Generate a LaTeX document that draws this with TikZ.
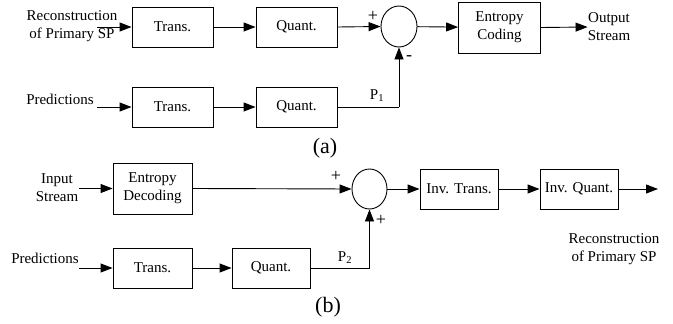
\documentclass[tikz,border=0pt]{standalone}
\usepackage{fontspec}
\setmainfont{Liberation Serif}
\usetikzlibrary{arrows.meta,shapes.geometric}
\begin{document}
\begin{tikzpicture}[x=1pt,y=-1pt,
  every node/.style={font=\fontsize{15}{18}\selectfont, inner sep=0pt},
  blk/.style={draw, line width=0.9pt, minimum width=81pt, minimum height=40pt, align=center},
  sumnode/.style={draw, ellipse, line width=0.9pt, minimum width=36pt, minimum height=41pt},
  lbl/.style={align=center},
  sgn/.style={font=\fontsize{18}{18}\selectfont},
  conn/.style={line width=0.9pt},
  arr/.style={line width=0.9pt, -{Triangle[length=12pt,width=9pt]}},
  captxt/.style={font=\fontsize{22}{24}\selectfont}
]
\useasboundingbox (0,0) rectangle (673,324);
% ---------- (a) ----------
\node[lbl] (recA) at (72,26) {Reconstruction\\of Primary SP};
\coordinate (recAout) at (97,27);
\node[blk] (t1) at (172.5,27) {Trans.};
\node[blk] (q1) at (296.5,27) {Quant.};
\node[sumnode] (s1) at (399,26.5) {};
\node[blk, minimum width=82pt, minimum height=51pt] (ec) at (499.5,27.5) {Entropy\\Coding};
\node[lbl] (outA) at (609,27) {Output\\Stream};
\node (predA) at (60,99) {Predictions};
\coordinate (predAout) at (97,107);
\node[blk] (t2) at (172.5,107) {Trans.};
\node[blk] (q2) at (296.5,107) {Quant.};
\coordinate (cA) at (399,107);
\node (p1) at (377,96) {P\textsubscript{1}};
\node[sgn] (plusA) at (373,16) {+};
\node[sgn] (minusA) at (409,58) {-};
\node[captxt] (capA) at (325,148) {(a)};

\draw[arr] (recAout) -- (t1.west);
\draw[arr] (t1) -- (q1);
\draw[arr] (q1.east) -- (s1.west);
\draw[arr] (s1) -- (ec);
\draw[arr] (ec.east) -- (outA.west);
\draw[arr] (predAout) -- (t2.west);
\draw[arr] (t2) -- (q2);
\draw[conn] (q2.east) -- (cA);
\draw[arr] (cA) -- (s1.south);

% ---------- (b) ----------
\node[lbl] (inB) at (57,188) {Input\\Stream};
\coordinate (inBout) at (79,188.5);
\node[blk, minimum width=79pt, minimum height=51pt] (ed) at (152.5,188.5) {Entropy\\Decoding};
\node[sumnode, minimum width=35pt, minimum height=40pt] (s2) at (369.5,189) {};
\node[blk, minimum width=78pt] (it) at (459,189) {Inv. Trans.};
\node[blk, minimum width=78pt] (iq) at (579,189) {Inv. Quant.};
\coordinate (endB) at (658,189);
\node[lbl] (recB) at (614,249) {Reconstruction\\of Primary SP};
\node (predB) at (45,258) {Predictions};
\coordinate (predBout) at (79,268);
\node[blk, minimum width=79pt] (t3) at (152.5,268) {Trans.};
\node[blk, minimum width=78pt] (q3) at (271,268) {Quant.};
\coordinate (cB) at (369.5,268);
\node (p2) at (345,258) {P\textsubscript{2}};
\node[sgn] (plusB1) at (336,176) {+};
\node[sgn] (plusB2) at (381,220) {+};
\node[captxt] (capB) at (328,307) {(b)};

\draw[arr] (inBout) -- (ed.west);
\draw[arr] (ed.east) -- (s2.west);
\draw[arr] (s2) -- (it);
\draw[arr] (it) -- (iq);
\draw[arr] (iq.east) -- (endB);
\draw[arr] (predBout) -- (t3.west);
\draw[arr] (t3) -- (q3);
\draw[conn] (q3.east) -- (cB);
\draw[arr] (cB) -- (s2.south);
\end{tikzpicture}
\end{document}
